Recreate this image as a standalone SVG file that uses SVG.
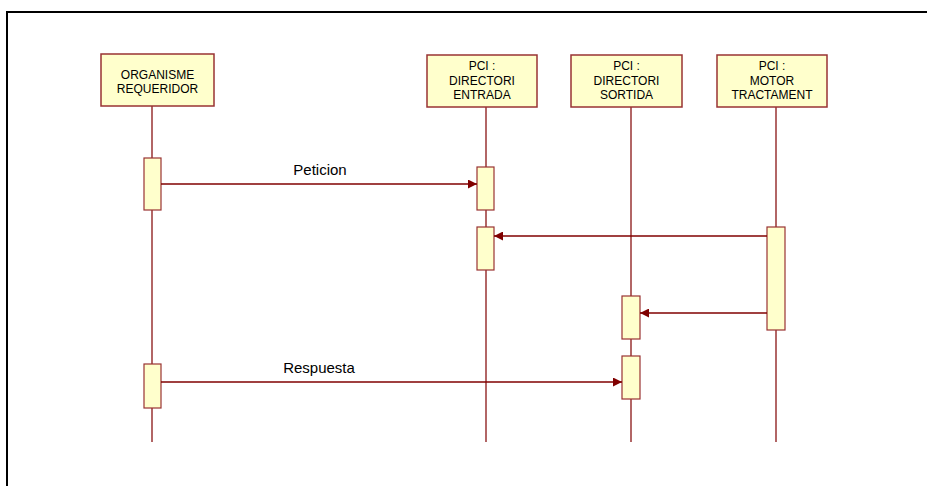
<svg xmlns="http://www.w3.org/2000/svg" width="927" height="486" viewBox="0 0 927 486">
<defs>
<style>
.frame{fill:none;stroke:#000;stroke-width:2}
.box{fill:#FFFFCC;stroke:#993333;stroke-width:1.5}
.life{stroke:#993333;stroke-width:1.5;fill:none}
.act{fill:#FFFFCC;stroke:#993333;stroke-width:1.2}
.msg{stroke:#800000;stroke-width:1.6;fill:none}
.t{font-family:"Liberation Sans",Arial,sans-serif;font-size:12px;fill:#000;text-anchor:middle}
.lbl{font-family:"Liberation Sans",Arial,sans-serif;font-size:15px;fill:#000;text-anchor:middle}
</style>
<marker id="ah" viewBox="0 0 10 10" refX="10" refY="5" markerWidth="10" markerHeight="9" markerUnits="userSpaceOnUse" orient="auto">
<path d="M0,0 L10,5 L0,10 z" fill="#800000"/>
</marker>
</defs>
<rect class="frame" x="7" y="12" width="930" height="490"/>

<g id="lifelines">
<line class="life" x1="152" y1="106" x2="152" y2="442"/>
<line class="life" x1="486" y1="107" x2="486" y2="442"/>
<line class="life" x1="631" y1="107" x2="631" y2="442"/>
<line class="life" x1="776" y1="107" x2="776" y2="442"/>
</g>

<g id="node-organisme">
<rect class="box" x="101" y="54" width="113" height="52"/>
<text class="t" x="157.5" y="79">ORGANISME</text>
<text class="t" x="157.5" y="93">REQUERIDOR</text>
</g>
<g id="node-entrada">
<rect class="box" x="427" y="55" width="110" height="52"/>
<text class="t" x="482" y="70">PCI :</text>
<text class="t" x="482" y="85">DIRECTORI</text>
<text class="t" x="482" y="99">ENTRADA</text>
</g>
<g id="node-sortida">
<rect class="box" x="571" y="55" width="111" height="52"/>
<text class="t" x="626.5" y="70">PCI :</text>
<text class="t" x="626.5" y="85">DIRECTORI</text>
<text class="t" x="626.5" y="99">SORTIDA</text>
</g>
<g id="node-motor">
<rect class="box" x="717" y="55" width="110" height="52"/>
<text class="t" x="772" y="70">PCI :</text>
<text class="t" x="772" y="85">MOTOR</text>
<text class="t" x="772" y="99">TRACTAMENT</text>
</g>

<g id="activations">
<rect class="act" x="144" y="158" width="17" height="52"/>
<rect class="act" x="477" y="167" width="17" height="43"/>
<rect class="act" x="477" y="227" width="17" height="43"/>
<rect class="act" x="767" y="227" width="18" height="103"/>
<rect class="act" x="622" y="296" width="18" height="43"/>
<rect class="act" x="622" y="356" width="18" height="43"/>
<rect class="act" x="144" y="364" width="17" height="44"/>
</g>

<g id="connectors">
<line class="msg" x1="161" y1="184" x2="477" y2="184" marker-end="url(#ah)"/>
<text class="lbl" x="320" y="175">Peticion</text>
<line class="msg" x1="767" y1="236" x2="494" y2="236" marker-end="url(#ah)"/>
<line class="msg" x1="767" y1="313" x2="640" y2="313" marker-end="url(#ah)"/>
<line class="msg" x1="161" y1="382" x2="622" y2="382" marker-end="url(#ah)"/>
<text class="lbl" x="319" y="373">Respuesta</text>
</g>
</svg>
